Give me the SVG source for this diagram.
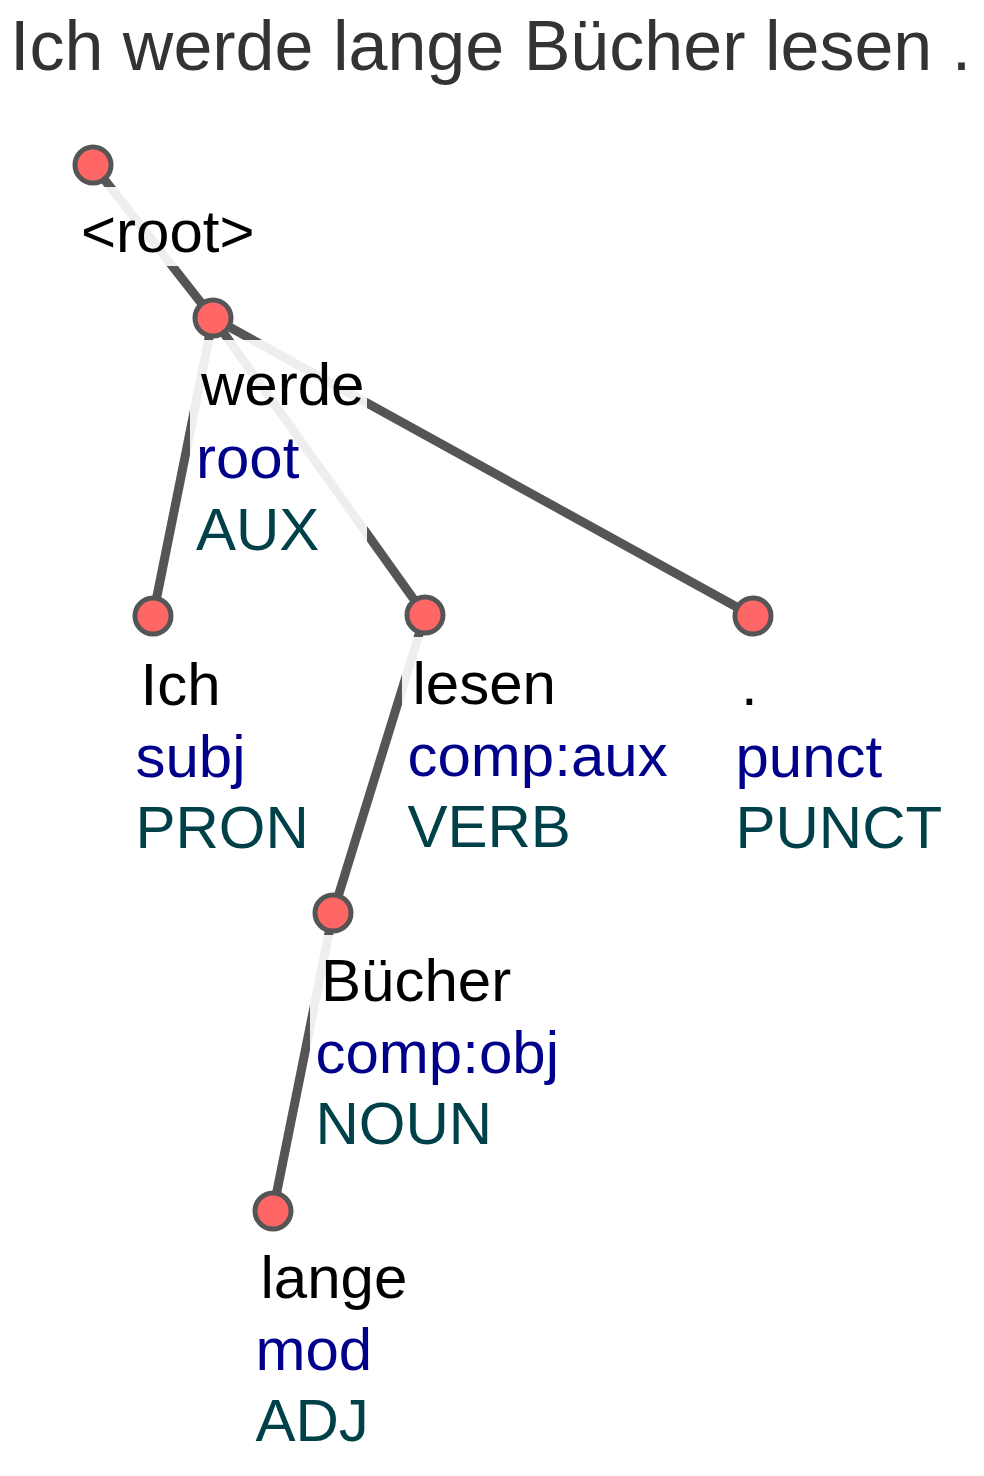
<svg xmlns="http://www.w3.org/2000/svg" width="984" height="1476" viewBox="0 0 984 1476">
<style>
.edge{stroke:#555;stroke-width:9;stroke-linecap:butt;fill:none}
.box{fill:#fff;fill-opacity:0.9}
.node{fill:#f66;stroke:#555;stroke-width:5}
text{font-family:"Liberation Sans",Arial,Helvetica,sans-serif;font-size:60px}
.title{font-size:70px;fill:#333}
.word{fill:#000}
.rel{fill:#00008b}
.pos{fill:#004048}
</style>
<rect x="0" y="0" width="984" height="1476" fill="#fff"/>
<text class="title" x="10" y="70">Ich werde lange Bücher lesen .</text>
<g id="edges">
<line class="edge" x1="93" y1="165" x2="213" y2="318"/>
<line class="edge" x1="213" y1="318" x2="153" y2="616"/>
<line class="edge" x1="213" y1="318" x2="425" y2="615"/>
<line class="edge" x1="213" y1="318" x2="753" y2="616"/>
<line class="edge" x1="425" y1="615" x2="333" y2="913"/>
<line class="edge" x1="333" y1="913" x2="273" y2="1211"/>
</g>
<g id="node-root">
<rect class="box" x="70" y="187" width="187" height="79"/>
<circle class="node" cx="93" cy="165" r="18"/>
<text class="word" x="81" y="252">&lt;root&gt;</text>
</g>
<g id="node-werde">
<rect class="box" x="190" y="340" width="177" height="223"/>
<circle class="node" cx="213" cy="318" r="18"/>
<text class="word" x="201" y="405">werde</text>
<text class="rel" x="196" y="478">root</text>
<text class="pos" x="196" y="550">AUX</text>
</g>
<g id="node-Ich">
<rect class="box" x="130" y="638" width="182" height="223"/>
<circle class="node" cx="153" cy="616" r="18"/>
<text class="word" x="140.5" y="705">Ich</text>
<text class="rel" x="135.5" y="777">subj</text>
<text class="pos" x="135.5" y="848">PRON</text>
</g>
<g id="node-lesen">
<rect class="box" x="402" y="637" width="269" height="223"/>
<circle class="node" cx="425" cy="615" r="18"/>
<text class="word" x="412.5" y="704">lesen</text>
<text class="rel" x="407.5" y="776">comp:aux</text>
<text class="pos" x="407.5" y="847">VERB</text>
</g>
<g id="node-punct">
<rect class="box" x="730" y="638" width="215" height="223"/>
<circle class="node" cx="753" cy="616" r="18"/>
<text class="word" x="741" y="705">.</text>
<text class="rel" x="735.5" y="777">punct</text>
<text class="pos" x="735.5" y="848">PUNCT</text>
</g>
<g id="node-Buecher">
<rect class="box" x="310" y="935" width="252" height="223"/>
<circle class="node" cx="333" cy="913" r="18"/>
<text class="word" x="321" y="1001">Bücher</text>
<text class="rel" x="315.5" y="1073">comp:obj</text>
<text class="pos" x="315.5" y="1144">NOUN</text>
</g>
<g id="node-lange">
<rect class="box" x="250" y="1233" width="160" height="223"/>
<circle class="node" cx="273" cy="1211" r="18"/>
<text class="word" x="260.5" y="1298">lange</text>
<text class="rel" x="255.5" y="1370">mod</text>
<text class="pos" x="255.5" y="1441">ADJ</text>
</g>
</svg>
